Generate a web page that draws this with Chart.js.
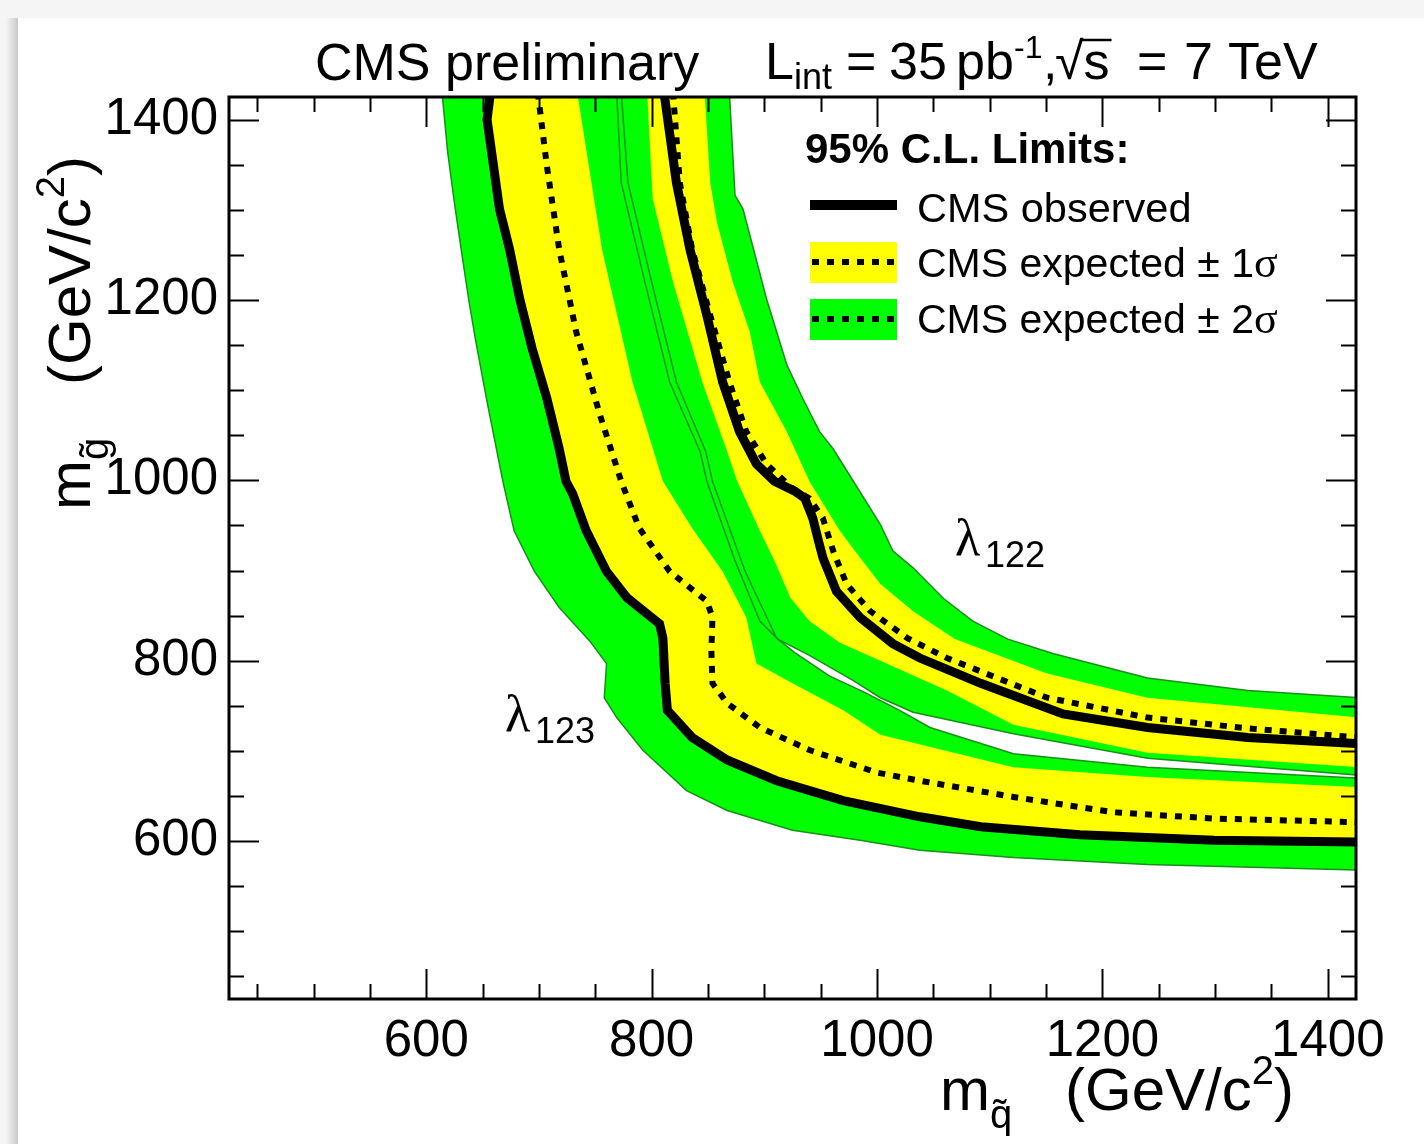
<!DOCTYPE html>
<html>
<head>
<meta charset="utf-8">
<script src="https://cdn.jsdelivr.net/npm/chart.js@4.4.0/dist/chart.umd.min.js"></script>
<style>
  html, body { margin: 0; padding: 0; background: #fff; }
  #wrap { position: relative; width: 1424px; height: 1144px; }
</style>
</head>
<body>
<div id="wrap"><canvas id="limits"></canvas></div>
<script>
// [m_squark, m_gluino] in GeV/c^2
// lambda_123 contours
const obs123 = [[657,1430],[654,1400],[665,1301],[674,1256],[683,1201],[694,1146],[707,1091],[718,1035],[724,999],[730,985],[742,944],[760,899],[778,870],[798,850],[807,841],[810,825],[812,775],[814,745],[836,715],[867,690],[911,667],[970,645],[1038,627],[1092,616],[1180,607],[1299,601],[1427,599]];
const exp123 = [[699,1430],[707,1349],[718,1256],[733,1165],[754,1073],[773,999],[789,947],[816,899],[849,866],[854,848],[853,811],[854,775],[867,753],[896,726],[940,701],[1000,676],[1038,667],[1121,649],[1210,632],[1299,625],[1427,621]];
const lo1_123 = [[654,1430],[651,1400],[662,1301],[671,1256],[680,1201],[691,1146],[704,1091],[715,1035],[721,999],[727,985],[739,944],[757,899],[776,868],[796,848],[805,839],[807,825],[809,775],[811,743],[834,712],[865,687],[910,664],[969,642],[1038,624],[1092,613],[1180,604],[1299,598],[1427,596]];
const up1_123 = [[734,1430],[756,1256],[783,1109],[810,999],[836,947],[863,899],[884,848],[893,797],[925,775],[970,745],[1003,718],[1121,682],[1240,671],[1427,660]];
const lo2_123 = [[614,1430],[619,1364],[625,1308],[631,1256],[638,1198],[644,1154],[654,1087],[668,999],[678,944],[696,899],[718,859],[745,822],[760,797],[758,759],[769,737],[792,701],[831,656],[867,634],[925,612],[985,601],[1038,590],[1121,582],[1240,574],[1427,568]];
const up2_123 = [[773,1430],[779,1330],[800,1220],[822,1109],[848,1032],[854,999],[883,899],[911,825],[927,809],[958,783],[989,765],[1020,745],[1047,726],[1121,697],[1240,682],[1427,670]];

// lambda_122 contours
const obs122 = [[811,1430],[822,1330],[834,1256],[849,1183],[863,1109],[878,1054],[893,1018],[909,999],[927,988],[936,980],[943,958],[948,933],[952,914],[964,877],[985,848],[1014,819],[1038,803],[1092,775],[1165,741],[1240,726],[1329,715],[1427,708]];
const exp122 = [[819,1430],[825,1330],[836,1256],[852,1183],[869,1109],[884,1054],[902,1018],[925,991],[940,980],[952,958],[961,922],[973,885],[994,855],[1027,825],[1062,803],[1151,759],[1240,737],[1329,725],[1427,715]];
const lo1_122 = [[796,1430],[801,1312],[819,1220],[845,1109],[867,1032],[876,999],[896,944],[909,911],[923,870],[940,844],[967,820],[1003,800],[1062,767],[1121,729],[1240,698],[1427,682]];
const up1_122 = [[847,1430],[852,1330],[858,1286],[872,1220],[887,1165],[896,1109],[920,1054],[940,999],[967,944],[987,911],[1003,885],[1032,855],[1069,824],[1151,786],[1240,759],[1427,737]];
const lo2_122 = [[769,1430],[773,1330],[794,1220],[816,1109],[843,1032],[849,999],[874,911],[896,844],[912,824],[940,806],[979,778],[1003,759],[1032,743],[1121,719],[1240,692],[1427,673]];
const up2_122 = [[869,1430],[874,1316],[881,1301],[902,1201],[920,1128],[934,1091],[949,1054],[961,1035],[979,999],[1003,951],[1014,922],[1032,903],[1059,869],[1085,844],[1116,824],[1156,808],[1240,781],[1329,767],[1427,759]];

const xTicks = [600, 800, 1000, 1200, 1400];
const yTicks = [600, 800, 1000, 1200, 1400];

// closed polygon: lower edge out, upper edge back
const band = (lo, up) => lo.concat(up.slice().reverse());

const SANS = 'Liberation Sans';
const SERIF = 'Liberation Serif';

// draws a run of text pieces, each with its own size / offset
function rich(ctx, x, y, parts) {
  for (const p of parts) {
    ctx.font = (p.w || 'normal') + ' ' + p.s + 'px "' + (p.f || SANS) + '"';
    if (p.at !== undefined) x = p.at;
    ctx.fillText(p.t, x, y + (p.dy || 0));
    x += ctx.measureText(p.t).width;
  }
  return x;
}

const decor = {
  id: 'decor',
  beforeDraw(chart) {
    const ctx = chart.ctx;
    ctx.save();
    ctx.fillStyle = '#f5f5f5';
    ctx.fillRect(0, 0, chart.width, chart.height);
    const g = ctx.createLinearGradient(6, 0, 18, 0);
    g.addColorStop(0, '#f5f5f5');
    g.addColorStop(1, '#c8c8c8');
    ctx.fillStyle = g;
    ctx.fillRect(6, 18, 12, chart.height);
    ctx.fillStyle = '#fff';
    ctx.fillRect(18, 18, chart.width - 18, chart.height - 18);
    ctx.restore();
  },
  afterDraw(chart) {
    const ctx = chart.ctx;
    const {left, right, top, bottom} = chart.chartArea;
    const xs = chart.scales.x, ys = chart.scales.y;
    ctx.save();
    ctx.strokeStyle = '#000';
    ctx.fillStyle = '#000';

    // inside ticks on all four sides
    ctx.lineWidth = 2;
    ctx.beginPath();
    for (let v = 450; v <= 1400; v += 50) {
      const lx = xTicks.includes(v) ? 30 : 15;
      const px = Math.round(xs.getPixelForValue(v)) + 0.5;
      ctx.moveTo(px, bottom); ctx.lineTo(px, bottom - lx);
      ctx.moveTo(px, top); ctx.lineTo(px, top + lx);
      const ly = yTicks.includes(v) ? 30 : 15;
      const py = Math.round(ys.getPixelForValue(v)) + 0.5;
      ctx.moveTo(left, py); ctx.lineTo(left + ly, py);
      ctx.moveTo(right, py); ctx.lineTo(right - ly, py);
    }
    ctx.stroke();
    ctx.lineWidth = 3;
    ctx.strokeRect(left, top, right - left, bottom - top);

    ctx.textAlign = 'left';
    ctx.textBaseline = 'alphabetic';

    // header
    rich(ctx, 315, 80, [{t: 'CMS preliminary', s: 52}]);
    rich(ctx, 765, 79, [
      {t: 'L', s: 52},
      {t: 'int', s: 36, dy: 10},
      {t: '=', s: 52, at: 846},
      {t: '35', s: 52, at: 889},
      {t: 'pb', s: 52, at: 956},
      {t: '-1', s: 32, dy: -21, at: 1014},
      {t: ',', s: 52, at: 1043}
    ]);
    ctx.font = '52px "' + SANS + '"';
    ctx.fillText('\u221A', 1055, 79);
    const sx = 1055 + ctx.measureText('\u221A').width;
    ctx.fillText('s', sx, 79);
    const sw = ctx.measureText('s').width;
    ctx.lineWidth = 2.5;
    ctx.beginPath();
    ctx.moveTo(sx - 2, 40); ctx.lineTo(sx + sw + 2, 40);
    ctx.stroke();
    rich(ctx, 1137, 79, [{t: '=', s: 52}, {t: '7', s: 52, at: 1184}, {t: 'TeV', s: 52, at: 1228}]);

    // x axis title
    rich(ctx, 940, 1110, [
      {t: 'm', s: 60},
      {t: 'q\u0303', s: 40, dy: 18},
      {t: '(GeV/c', s: 60, at: 1065},
      {t: '2', s: 40, dy: -26},
      {t: ')', s: 60}
    ]);

    // y axis title
    ctx.save();
    ctx.translate(90, 510);
    ctx.rotate(-Math.PI / 2);
    rich(ctx, 0, 0, [
      {t: 'm', s: 60},
      {t: 'g\u0303', s: 40, dy: 18},
      {t: '(GeV/c', s: 60, at: 125},
      {t: '2', s: 40, dy: -26},
      {t: ')', s: 60}
    ]);
    ctx.restore();

    // coupling labels
    rich(ctx, 955, 555, [{t: '\u03BB', s: 52, f: SERIF}, {t: '122', s: 36, dy: 12, at: 985}]);
    rich(ctx, 505, 731, [{t: '\u03BB', s: 52, f: SERIF}, {t: '123', s: 36, dy: 12, at: 535}]);

    // legend
    rich(ctx, 805, 163, [{t: '95% C.L. Limits:', s: 42, w: 'bold'}]);
    ctx.fillStyle = '#ffff00';
    ctx.fillRect(810, 242, 87, 41);
    ctx.fillStyle = '#00ff00';
    ctx.fillRect(810, 299, 87, 41);
    ctx.strokeStyle = '#000';
    ctx.lineWidth = 10;
    ctx.beginPath(); ctx.moveTo(810, 205); ctx.lineTo(897, 205); ctx.stroke();
    ctx.lineWidth = 6;
    ctx.setLineDash([7, 8]);
    ctx.beginPath();
    ctx.moveTo(812, 262); ctx.lineTo(897, 262);
    ctx.moveTo(812, 319); ctx.lineTo(897, 319);
    ctx.stroke();
    ctx.setLineDash([]);
    ctx.fillStyle = '#000';
    rich(ctx, 917, 222, [{t: 'CMS observed', s: 41.5}]);
    rich(ctx, 917, 277, [{t: 'CMS expected \u00B1 1', s: 41}, {t: '\u03C3', s: 44, f: SERIF}]);
    rich(ctx, 917, 333, [{t: 'CMS expected \u00B1 2', s: 41}, {t: '\u03C3', s: 44, f: SERIF}]);
    ctx.restore();
  }
};

const OBS_W = 9, EXP_W = 6, DASH = [7, 8];
const YELLOW = '#ffff00', GREEN = '#00ff00', EDGE = '#1a8f1a';

// first dataset is painted on top
const datasets = [
  {data: obs123, borderColor: '#000', borderWidth: OBS_W, fill: false},
  {data: obs122, borderColor: '#000', borderWidth: OBS_W, fill: false},
  {data: exp123, borderColor: '#000', borderWidth: EXP_W, borderDash: DASH, fill: false},
  {data: exp122, borderColor: '#000', borderWidth: EXP_W, borderDash: DASH, fill: false},
  {data: band(lo1_123, up1_123), backgroundColor: YELLOW, borderColor: 'transparent', borderWidth: 0, fill: 'shape'},
  {data: band(lo1_122, up1_122), backgroundColor: YELLOW, borderColor: 'transparent', borderWidth: 0, fill: 'shape'},
  {data: band(lo2_123, up2_123), backgroundColor: GREEN, borderColor: EDGE, borderWidth: 1.5, fill: 'shape'},
  {data: band(lo2_122, up2_122), backgroundColor: GREEN, borderColor: EDGE, borderWidth: 1.5, fill: 'shape'}
];

const tickFont = {family: SANS, size: 51};

new Chart(document.getElementById('limits'), {
  type: 'line',
  data: {datasets},
  options: {
    responsive: true,
    maintainAspectRatio: false,
    animation: false,
    events: [],
    devicePixelRatio: 1,
    layout: {padding: {left: 0, top: 97, right: 68, bottom: 0}},
    elements: {point: {radius: 0}, line: {tension: 0}},
    plugins: {
      legend: {display: false},
      tooltip: {enabled: false},
      filler: {drawTime: 'beforeDatasetsDraw'}
    },
    scales: {
      x: {
        type: 'linear', min: 425, max: 1425,
        grid: {display: false, drawTicks: false},
        border: {display: false},
        ticks: {font: tickFont, color: '#000', padding: 12, maxRotation: 0, autoSkip: false, callback: v => String(v)},
        afterBuildTicks: s => { s.ticks = xTicks.map(v => ({value: v})); },
        afterFit: s => { s.height = 145; }
      },
      y: {
        type: 'linear', min: 425, max: 1425,
        grid: {display: false, drawTicks: false},
        border: {display: false},
        ticks: {font: tickFont, color: '#000', padding: 11, autoSkip: false, callback: v => String(v)},
        afterBuildTicks: s => { s.ticks = yTicks.map(v => ({value: v})); },
        afterFit: s => { s.width = 229; }
      }
    }
  },
  plugins: [decor]
});
</script>
</body>
</html>
